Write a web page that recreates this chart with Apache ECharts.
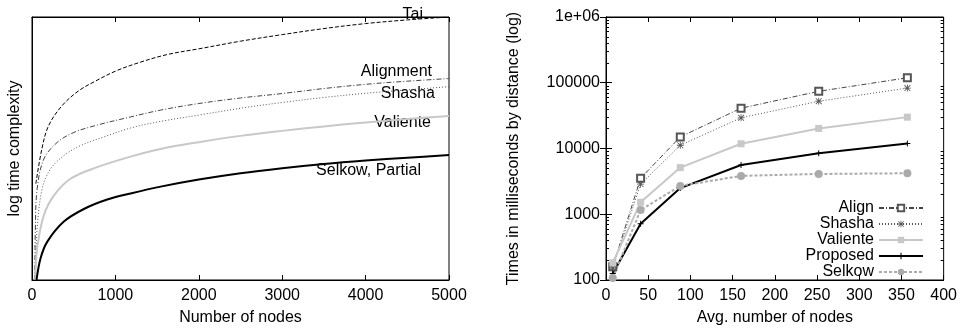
<!DOCTYPE html>
<html>
<head>
<meta charset="utf-8">
<script src="https://cdn.jsdelivr.net/npm/echarts@6/dist/echarts.min.js"></script>
<style>
  html, body { margin: 0; padding: 0; background: #fff; }
  #chart { width: 960px; height: 331px; }
</style>
</head>
<body>
<div id="chart"></div>
<script>
// left panel: log time complexity curves, [nodes, relative height 0..100]
const taiCurve = [[46, 36.6], [118, 49.8], [198, 58.6], [358, 66.2], [558, 71.9], [759, 75.6], [1000, 79.4],
    [1278, 82.6], [1618, 85.7], [2000, 87.9], [2500, 90.8], [3000, 93.3], [3500, 95.6], [4000, 97.5], [4500, 98.9], [5000, 100]];
const alignmentCurve = [[34, 0], [40, 19], [62, 34.7], [142, 46.0], [302, 52.3], [502, 56.1], [782, 58.9],
    [1182, 62.0], [1542, 64.6], [2000, 67.1], [2500, 69.2], [3000, 70.9], [3500, 72.8], [4000, 74.4], [4500, 75.6], [5000, 76.6]];
const shashaCurve = [[36, 0], [62, 19.6], [122, 34.7], [222, 42.2], [382, 47.3], [582, 51.1], [862, 54.4],
    [1182, 57.8], [1542, 60.3], [2000, 62.7], [2500, 65.3], [3000, 67.5], [3500, 69.4], [4000, 71.0], [4500, 72.3], [5000, 73.5]];
const valienteCurve = [[40, 0], [62, 12.0], [142, 24.6], [262, 32.1], [462, 38.5], [782, 42.9], [1182, 46.9],
    [1542, 49.8], [2000, 52.4], [2500, 54.8], [3000, 56.7], [3500, 58.4], [4000, 59.9], [4500, 61.2], [5000, 62.4]];
const selkowCurve = [[54, 0], [102, 8.2], [182, 14.5], [382, 22.2], [622, 27.0], [902, 30.6], [1182, 32.9],
    [1542, 35.5], [2000, 38.2], [2500, 40.6], [3000, 42.5], [3500, 44.1], [4000, 45.4], [4500, 46.5], [5000, 47.5]];

// right panel: measured times (ms)
const avgNodes = [8, 41, 88, 160, 252, 357];
const alignTimes = [159, 3530, 15000, 41000, 74100, 119000];
const shashaTimes = [152, 2870, 11200, 29300, 52400, 83000];
const valienteTimes = [183, 1520, 5120, 11800, 20200, 30000];
const proposedTimes = [126, 716, 2500, 5600, 8500, 11900];
const selkowTimes = [107, 1160, 2700, 3830, 4100, 4200];

const font = 'Liberation Sans, Arial, sans-serif';
const pair = (ys) => avgNodes.map((x, i) => [x, ys[i]]);

// minor log ticks (2..9 in each decade), in exponent units
const minorLog = [];
for (let d = 2; d < 6; d++) {
    for (let k = 2; k <= 9; k++) minorLog.push(d + Math.log10(k));
}

const asterisk = 'path://M4.4,0h1.2v10h-1.2z M0,4.4h10v1.2h-10z M1.2,0.4L9.6,8.8L8.8,9.6L0.4,1.2z M8.8,0.4L9.6,1.2L1.2,9.6L0.4,8.8z';
const plus = 'path://M4.2,0h1.6v10h-1.6z M0,4.2h10v1.6h-10z';

const chart = echarts.init(document.getElementById('chart'), null, { renderer: 'canvas' });

const lbl = { fontFamily: font, fontSize: 16, color: '#000' };
const axisLine = { show: true, lineStyle: { color: '#000', width: 1 } };
const plain = v => String(Math.round(v));
const note = (x, y, text) => ({
    type: 'text', x: x, y: y,
    style: { text: text, align: 'right', verticalAlign: 'middle', font: '16px ' + font, fill: '#000' }
});

const option = {
    animation: false,
    backgroundColor: '#fff',
    textStyle: { fontFamily: font },
    grid: [
        { left: 32, right: 511, top: 17, bottom: 49, show: true, borderColor: '#000', borderWidth: 1 },
        { left: 606, right: 14, top: 17, bottom: 48, show: true, borderColor: '#000', borderWidth: 1 }
    ],
    xAxis: [
        {
            gridIndex: 0, type: 'value', min: 0, max: 5000, interval: 1000,
            name: 'Number of nodes', nameLocation: 'middle', nameGap: 30, nameTextStyle: lbl,
            axisLine: axisLine, axisTick: { inside: true, length: 5, lineStyle: { color: '#000' } },
            axisLabel: Object.assign({ margin: 8, formatter: plain }, lbl), splitLine: { show: false }
        },
        {
            gridIndex: 0, type: 'value', min: 0, max: 5000, interval: 1000, position: 'top',
            axisLine: axisLine, axisTick: { inside: true, length: 5, lineStyle: { color: '#000' } },
            axisLabel: { show: false }, splitLine: { show: false }
        },
        {
            gridIndex: 1, type: 'value', min: 0, max: 400, interval: 50,
            name: 'Avg. number of nodes', nameLocation: 'middle', nameGap: 30, nameTextStyle: lbl,
            axisLine: axisLine, axisTick: { inside: true, length: 5, lineStyle: { color: '#000' } },
            axisLabel: Object.assign({ margin: 8, formatter: plain }, lbl), splitLine: { show: false }
        },
        {
            gridIndex: 1, type: 'value', min: 0, max: 400, interval: 50, position: 'top',
            axisLine: axisLine, axisTick: { inside: true, length: 5, lineStyle: { color: '#000' } },
            axisLabel: { show: false }, splitLine: { show: false }
        }
    ],
    yAxis: [
        {
            gridIndex: 0, type: 'value', min: 0, max: 100,
            name: 'log time complexity', nameLocation: 'middle', nameGap: 9, nameTextStyle: lbl,
            axisLine: axisLine, axisTick: { show: false }, axisLabel: { show: false }, splitLine: { show: false }
        },
        {
            gridIndex: 1, type: 'log', logBase: 10, min: 100, max: 1000000,
            name: 'Times in milliseconds by distance (log)', nameLocation: 'middle', nameGap: 84, nameTextStyle: lbl,
            axisLine: axisLine, axisTick: { inside: true, length: 6, lineStyle: { color: '#000' } },
            axisLabel: Object.assign({ margin: 6, formatter: v => v >= 1000000 ? '1e+06' : plain(v) }, lbl),
            splitLine: { show: false }
        },
        {
            gridIndex: 1, type: 'log', logBase: 10, min: 100, max: 1000000, position: 'right',
            axisLine: axisLine, axisTick: { inside: true, length: 6, lineStyle: { color: '#000' } },
            axisLabel: { show: false }, splitLine: { show: false }
        },
        {
            gridIndex: 1, type: 'value', min: 2, max: 6, position: 'left',
            axisLine: { show: false },
            axisTick: { inside: true, length: 3, customValues: minorLog, lineStyle: { color: '#000' } },
            axisLabel: { show: false }, splitLine: { show: false }
        },
        {
            gridIndex: 1, type: 'value', min: 2, max: 6, position: 'right',
            axisLine: { show: false },
            axisTick: { inside: true, length: 3, customValues: minorLog, lineStyle: { color: '#000' } },
            axisLabel: { show: false }, splitLine: { show: false }
        }
    ],
    legend: {
        orient: 'vertical', right: 31, top: 195, align: 'right',
        itemWidth: 44, itemHeight: 8, itemGap: 0,
        textStyle: { fontFamily: font, fontSize: 16, color: '#000', lineHeight: 16 },
        data: ['Align', 'Shasha', 'Valiente', 'Proposed', 'Selkow']
    },
    graphic: [
        note(423, 15, 'Tai'),
        note(432, 72, 'Alignment'),
        note(435, 94, 'Shasha'),
        note(431, 123, 'Valiente'),
        note(421, 171, 'Selkow, Partial')
    ],
    series: [
        // left panel
        {
            name: 'Tai', type: 'line', xAxisIndex: 0, yAxisIndex: 0, data: taiCurve,
            smooth: 0.35, showSymbol: false,
            lineStyle: { color: '#000', width: 1, type: [4, 2] }
        },
        {
            name: 'Alignment', type: 'line', xAxisIndex: 0, yAxisIndex: 0, data: alignmentCurve,
            smooth: 0.35, showSymbol: false,
            lineStyle: { color: '#444', width: 1, type: [5, 2, 1, 2] }
        },
        {
            name: 'ShashaCurve', type: 'line', xAxisIndex: 0, yAxisIndex: 0, data: shashaCurve,
            smooth: 0.35, showSymbol: false,
            lineStyle: { color: '#555', width: 1, type: [1, 2] }
        },
        {
            name: 'ValienteCurve', type: 'line', xAxisIndex: 0, yAxisIndex: 0, data: valienteCurve,
            smooth: 0.35, showSymbol: false,
            lineStyle: { color: '#c8c8c8', width: 2 }
        },
        {
            name: 'SelkowCurve', type: 'line', xAxisIndex: 0, yAxisIndex: 0, data: selkowCurve,
            smooth: 0.35, showSymbol: false,
            lineStyle: { color: '#000', width: 2 }
        },
        // right panel
        {
            name: 'Align', type: 'line', xAxisIndex: 2, yAxisIndex: 1, data: pair(alignTimes),
            symbol: 'emptyRect', symbolSize: 7,
            itemStyle: { color: '#555', borderWidth: 1.3 },
            lineStyle: { color: '#444', width: 1, type: [5, 2, 1, 2] }
        },
        {
            name: 'Shasha', type: 'line', xAxisIndex: 2, yAxisIndex: 1, data: pair(shashaTimes),
            symbol: asterisk, symbolSize: 7,
            itemStyle: { color: '#555' },
            lineStyle: { color: '#555', width: 1, type: [1, 2] }
        },
        {
            name: 'Valiente', type: 'line', xAxisIndex: 2, yAxisIndex: 1, data: pair(valienteTimes),
            symbol: 'rect', symbolSize: 7,
            itemStyle: { color: '#c8c8c8' },
            lineStyle: { color: '#c8c8c8', width: 2 }
        },
        {
            name: 'Proposed', type: 'line', xAxisIndex: 2, yAxisIndex: 1, data: pair(proposedTimes),
            symbol: plus, symbolSize: 6,
            itemStyle: { color: '#000' },
            lineStyle: { color: '#000', width: 2 }
        },
        {
            name: 'Selkow', type: 'line', xAxisIndex: 2, yAxisIndex: 1, data: pair(selkowTimes),
            symbol: 'circle', symbolSize: 8,
            itemStyle: { color: '#aaa' },
            lineStyle: { color: '#aaa', width: 2, type: [3, 2] }
        }
    ]
};

chart.setOption(option);
</script>
</body>
</html>
